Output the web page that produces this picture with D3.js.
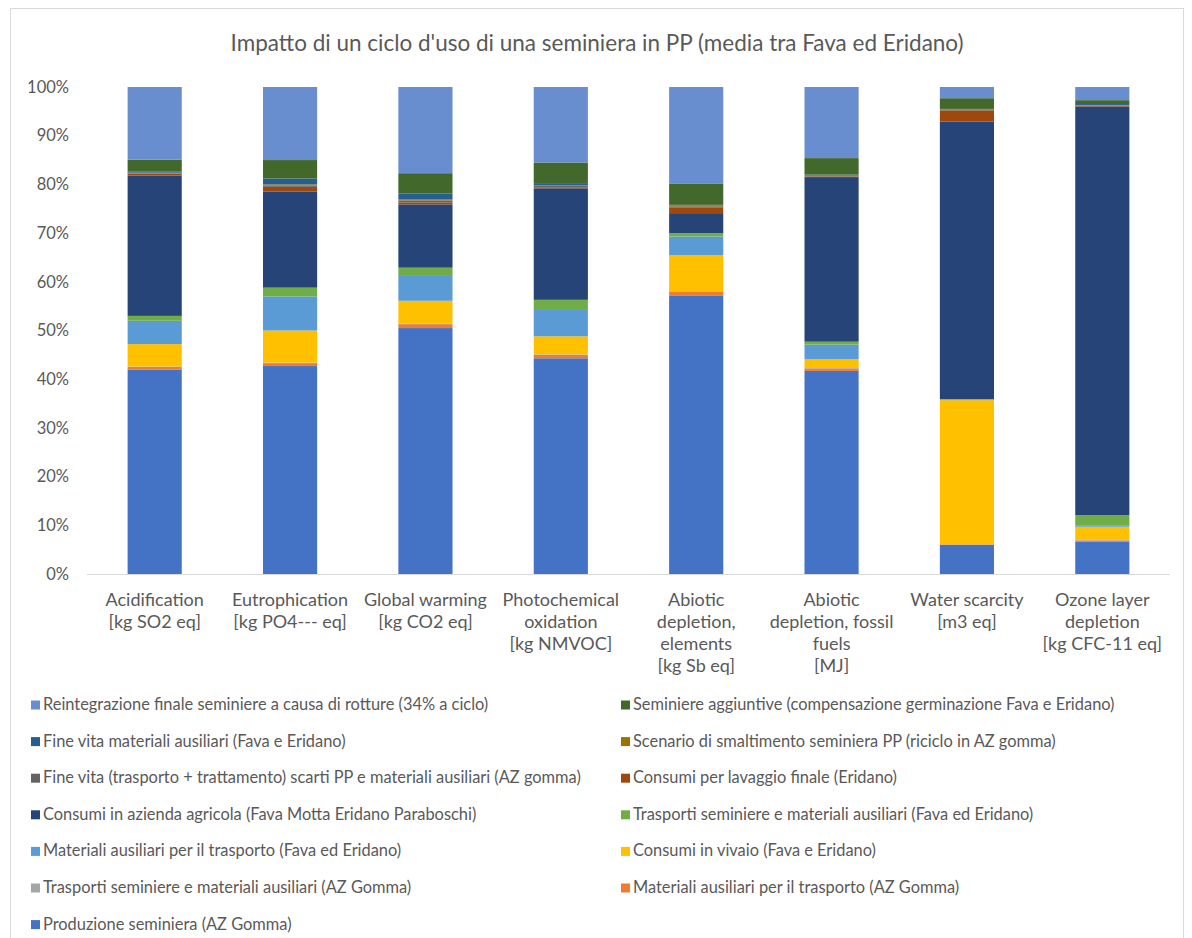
<!DOCTYPE html>
<html>
<head>
<meta charset="utf-8">
<script src="https://cdn.jsdelivr.net/npm/d3@7"></script>
<style>
  html, body { margin: 0; padding: 0; background: #ffffff; }
  svg { display: block; font-family: Lato, "Open Sans", sans-serif; }
</style>
</head>
<body>
<svg id="chart" width="1192" height="938"></svg>
<script>
// Impact categories (x axis), each label split into lines
const categories = [
  "Acidification", "Eutrophication", "Global warming", "Photochemical oxidation",
  "Abiotic depletion, elements", "Abiotic depletion, fossil fuels", "Water scarcity", "Ozone layer depletion"
];
const categoryLines = [
  ["Acidification", "[kg SO2 eq]"],
  ["Eutrophication", "[kg PO4--- eq]"],
  ["Global warming", "[kg CO2 eq]"],
  ["Photochemical", "oxidation", "[kg NMVOC]"],
  ["Abiotic", "depletion,", "elements", "[kg Sb eq]"],
  ["Abiotic", "depletion, fossil", "fuels", "[MJ]"],
  ["Water scarcity", "[m3 eq]"],
  ["Ozone layer", "depletion", "[kg CFC-11 eq]"]
];

// Life-cycle stages, listed from the bottom of each stack upwards
const seriesNames = [
  "Produzione seminiera (AZ Gomma)",
  "Materiali ausiliari per il trasporto (AZ Gomma)",
  "Trasporti seminiere e materiali ausiliari (AZ Gomma)",
  "Consumi in vivaio (Fava e Eridano)",
  "Materiali ausiliari per il trasporto (Fava ed Eridano)",
  "Trasporti seminiere e materiali ausiliari (Fava ed Eridano)",
  "Consumi in azienda agricola (Fava Motta Eridano Paraboschi)",
  "Consumi per lavaggio finale (Eridano)",
  "Fine vita (trasporto + trattamento) scarti PP e materiali ausiliari (AZ gomma)",
  "Scenario di smaltimento seminiera PP (riciclo in AZ gomma)",
  "Fine vita materiali ausiliari (Fava e Eridano)",
  "Seminiere aggiuntive (compensazione germinazione Fava e Eridano)",
  "Reintegrazione finale seminiere a causa di rotture (34% a ciclo)"
];

// Share (%) of each stage, one value per impact category
const produzione      = [42.0, 42.7, 50.5, 44.3, 57.1, 41.7,  6.0,  6.6];
const matAusAZ        = [ 0.5,  0.6,  0.8,  0.7,  0.9,  0.5,  0.1,  0.3];
const traspAZ         = [ 0.1,  0.1,  0.1,  0.1,  0.1,  0.1,  0.0,  0.1];
const vivaio          = [ 4.6,  6.6,  4.7,  3.7,  7.4,  1.8, 29.6,  2.7];
const matAusFava      = [ 4.8,  7.0,  5.1,  5.6,  3.8,  3.0,  0.1,  0.2];
const traspFava       = [ 1.0,  1.8,  1.7,  1.9,  0.7,  0.6,  0.1,  2.2];
const azienda         = [28.8, 19.7, 13.0, 22.9,  4.1, 33.8, 57.0, 83.9];
const lavaggio        = [ 0.4,  1.0,  0.4,  0.2,  1.2,  0.1,  2.3,  0.1];
const fineVitaAZ      = [ 0.1,  0.3,  0.4,  0.3,  0.2,  0.1,  0.1,  0.1];
const smaltimento     = [ 0.1,  0.2,  0.2,  0.1,  0.2,  0.1,  0.1,  0.1];
const fineVitaFava    = [ 0.2,  1.2,  1.2,  0.3,  0.1,  0.2,  0.1,  0.2];
const aggiuntive      = [ 2.5,  3.8,  4.2,  4.4,  4.4,  3.4,  2.2,  0.8];
const reintegrazione  = [14.9, 15.0, 17.7, 15.5, 19.8, 14.6,  2.3,  2.7];

const seriesValues = [
  produzione, matAusAZ, traspAZ, vivaio, matAusFava, traspFava, azienda,
  lavaggio, fineVitaAZ, smaltimento, fineVitaFava, aggiuntive, reintegrazione
];

const seriesColors = [
  "#4472C4", "#ED7D31", "#A5A5A5", "#FFC000", "#5B9BD5", "#70AD47", "#264478",
  "#9E480E", "#636363", "#997300", "#255E91", "#43682B", "#698ED0"
];

const yTicks = [0, 0.1, 0.2, 0.3, 0.4, 0.5, 0.6, 0.7, 0.8, 0.9, 1.0];

const title = "Impatto di un ciclo d'uso di una seminiera in PP (media tra Fava ed Eridano)";

// ---- build rows for the stack layout ----
const rows = categories.map((c, i) => {
  const r = { category: c };
  seriesNames.forEach((s, j) => { r[s] = seriesValues[j][i]; });
  return r;
});

const svg = d3.select("#chart");
const textColor = "#595959";

// chart frame
svg.append("rect")
  .attr("x", 10.5).attr("y", 8.5)
  .attr("width", 1173).attr("height", 960)
  .attr("fill", "none").attr("stroke", "#D9D9D9");

// title
svg.append("text")
  .attr("x", 597).attr("y", 51)
  .attr("text-anchor", "middle")
  .attr("fill", textColor)
  .style("font-size", "22.5px")
  .text(title);

const plot = { left: 87, right: 1170, top: 87, bottom: 574 };

const x = d3.scaleBand()
  .domain(categories)
  .range([plot.left, plot.right])
  .paddingInner(0.6)
  .paddingOuter(0.3);

const y = d3.scaleLinear()
  .domain([0, 1])
  .range([plot.bottom, plot.top]);

const stack = d3.stack()
  .keys(seriesNames)
  .value((d, key) => d[key] / 100);

const layers = stack(rows);

svg.append("g")
  .selectAll("g")
  .data(layers)
  .join("g")
  .attr("fill", (d, i) => seriesColors[i])
  .selectAll("rect")
  .data(d => d)
  .join("rect")
  .attr("x", d => x(d.data.category))
  .attr("width", x.bandwidth())
  .attr("y", d => y(d[1]))
  .attr("height", d => Math.max(0, y(d[0]) - y(d[1])));

// baseline
svg.append("line")
  .attr("x1", plot.left).attr("x2", plot.right)
  .attr("y1", plot.bottom + 0.5).attr("y2", plot.bottom + 0.5)
  .attr("stroke", "#D9D9D9");

// y axis labels
const yAxis = d3.axisLeft(y)
  .tickValues(yTicks)
  .tickFormat(d3.format(".0%"))
  .tickSize(0)
  .tickPadding(0);

const gy = svg.append("g")
  .attr("transform", `translate(69,0)`)
  .call(yAxis);
gy.select(".domain").remove();
gy.selectAll("text")
  .attr("fill", textColor)
  .style("font-family", "Lato, 'Open Sans', sans-serif")
  .style("font-size", "16.5px");

// x axis labels (multi-line)
const xAxis = d3.axisBottom(x).tickSize(0).tickFormat("");
const gx = svg.append("g")
  .attr("transform", `translate(0,${plot.bottom})`)
  .call(xAxis);
gx.select(".domain").remove();
gx.selectAll(".tick").each(function (d, i) {
  const t = d3.select(this).append("text")
    .attr("text-anchor", "middle")
    .attr("fill", textColor)
    .style("font-family", "Lato, 'Open Sans', sans-serif")
    .style("font-size", "18px");
  categoryLines[i].forEach((line, k) => {
    t.append("tspan")
      .attr("x", 0)
      .attr("y", 32 + k * 22)
      .text(line);
  });
});

// legend: two columns, listed from the top of the stack downwards
const legendOrder = seriesNames.map((s, i) => i).reverse();
const legend = svg.append("g")
  .selectAll("g")
  .data(legendOrder)
  .join("g")
  .attr("transform", (d, k) => {
    const col = k % 2;
    const row = Math.floor(k / 2);
    return `translate(${col === 0 ? 31 : 621},${705 + row * 36.6})`;
  });

legend.append("rect")
  .attr("x", 0).attr("y", -4.5)
  .attr("width", 9).attr("height", 9)
  .attr("fill", d => seriesColors[d]);

legend.append("text")
  .attr("x", 12).attr("y", 5)
  .attr("fill", textColor)
  .style("font-size", "16.4px")
  .text(d => seriesNames[d]);
</script>
</body>
</html>
